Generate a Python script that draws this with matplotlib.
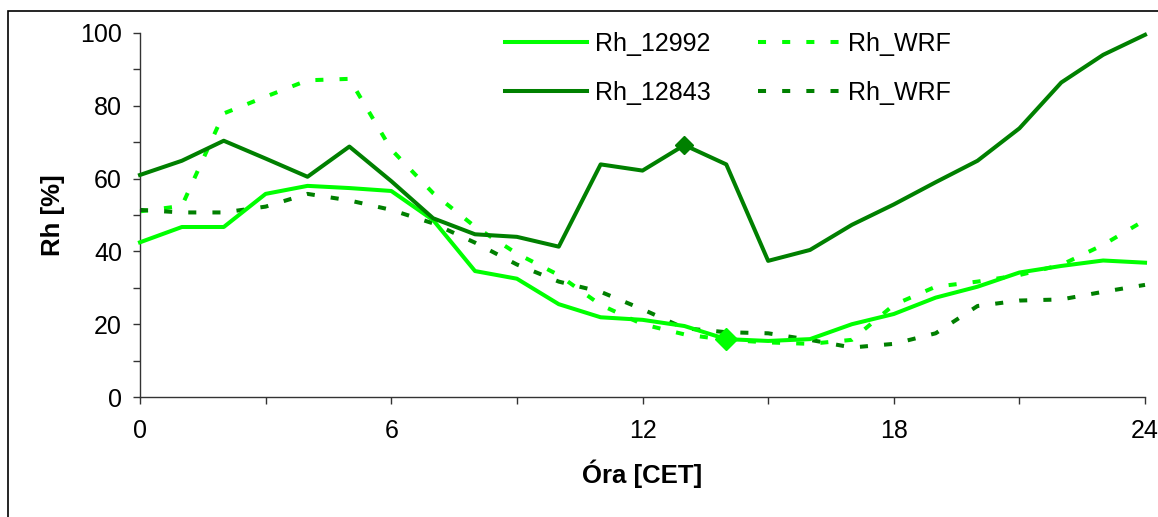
import numpy as np
import matplotlib
matplotlib.use("Agg")
import matplotlib.pyplot as plt
from matplotlib.lines import Line2D
from matplotlib.patches import Rectangle
from matplotlib.ticker import MultipleLocator

plt.rcParams['font.family'] = ['Liberation Sans', 'DejaVu Sans']

ora = list(range(25))

rh_12992 = [42.5, 46.7, 46.7, 55.8, 58.0, 57.4, 56.6, 48.6, 34.6, 32.5, 25.5, 21.9, 21.2,
            19.5, 15.9, 15.4, 15.9, 20.0, 22.8, 27.3, 30.3, 34.2, 36.0, 37.5, 36.9]
rh_12843 = [61.0, 64.9, 70.4, 65.5, 60.5, 68.8, 59.3, 49.1, 44.7, 44.0, 41.3, 63.9, 62.2,
            69.2, 63.9, 37.4, 40.4, 47.3, 52.9, 59.0, 64.9, 73.8, 86.4, 94.0, 99.5]
wrf_12992 = [51.0, 52.5, 77.9, 82.5, 87.0, 87.4, 68.0, 56.0, 46.8, 39.4, 33.5, 25.3, 20.0,
             17.2, 15.7, 15.0, 14.6, 15.7, 25.3, 30.3, 31.7, 33.5, 36.3, 41.8, 48.6]
wrf_12843 = [51.4, 50.7, 50.7, 52.3, 55.8, 54.0, 51.4, 47.7, 42.4, 36.4, 31.7, 28.9, 24.1,
             18.9, 17.8, 17.5, 15.7, 13.6, 14.6, 17.5, 25.0, 26.5, 26.8, 28.9, 30.8]

vilagos = "#00FF00"
sotet = "#008000"

fig = plt.figure(figsize=(11.58, 5.17), dpi=100)
ax = fig.add_axes([0.1209, 0.2321, 0.8679, 0.7041])

lw = 2.9
szaggatott = dict(dashes=(2, 4), dash_capstyle="butt")

ax.plot(ora, wrf_12992, color=vilagos, lw=lw, clip_on=False, zorder=2, **szaggatott)
ax.plot(ora, wrf_12843, color=sotet, lw=lw, clip_on=False, zorder=2, **szaggatott)
ax.plot(ora, rh_12992, color=vilagos, lw=lw, marker="D", markevery=[14], ms=11,
        mec=vilagos, clip_on=False, zorder=3)
ax.plot(ora, rh_12843, color=sotet, lw=lw, marker="D", markevery=[13], ms=9.5,
        mec=sotet, clip_on=False, zorder=3)

ax.set_xlim(0, 24)
ax.set_ylim(0, 100)
ax.xaxis.set_major_locator(MultipleLocator(6))
ax.xaxis.set_minor_locator(MultipleLocator(3))
ax.yaxis.set_major_locator(MultipleLocator(20))
ax.yaxis.set_minor_locator(MultipleLocator(10))
ax.tick_params(which="both", direction="out", length=5, width=1, color="#333333")
ax.tick_params(axis="y", which="major", labelsize=18, pad=8)
ax.tick_params(axis="x", which="major", labelsize=18, pad=11)

for s in ["top", "right"]:
    ax.spines[s].set_visible(False)
for s in ["left", "bottom"]:
    ax.spines[s].set_color("#333333")
    ax.spines[s].set_linewidth(1)

ax.set_xlabel("Óra [CET]", fontsize=18.5, fontweight="bold", labelpad=12)
ax.set_ylabel("Rh [%]", fontsize=18.5, fontweight="bold", labelpad=11)

# jelmagyarázat marker nélkül
jelek = [Line2D([], [], color=vilagos, lw=lw),
         Line2D([], [], color=sotet, lw=lw),
         Line2D([], [], color=vilagos, lw=lw, **szaggatott),
         Line2D([], [], color=sotet, lw=lw, **szaggatott)]
nevek = ["Rh_12992", "Rh_12843", "Rh_WRF", "Rh_WRF"]
ax.legend(jelek, nevek, ncol=2, frameon=False, fontsize=18,
          handlelength=3.3, handletextpad=0.3, columnspacing=1.9, labelspacing=1.0,
          loc="upper left", bbox_to_anchor=(0.363, 1.003), borderaxespad=0, borderpad=0)

# keret
fig.add_artist(Rectangle((8 / 1158, -0.05), 1.2, 1 - 11 / 517 + 0.05,
                         transform=fig.transFigure, fill=False, lw=1.2, ec="black"))

fig.savefig("out.png", dpi=100)
